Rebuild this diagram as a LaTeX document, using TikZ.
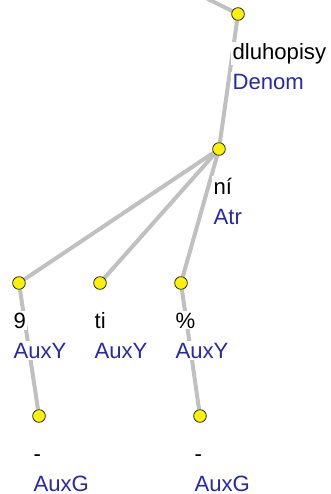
\documentclass[tikz,border=0pt]{standalone}
\usepackage{fontspec}
\setmainfont{Liberation Sans}
\usetikzlibrary{positioning}
\usetikzlibrary{backgrounds}
\definecolor{functor}{RGB}{40,40,170}
\definecolor{edgegray}{RGB}{192,192,192}

\begin{document}
\begin{tikzpicture}[x=0.75pt,y=-0.75pt]
        \tikzstyle{tnode}=[circle,draw=black!85,fill=yellow,minimum size=9.5pt,inner sep=0pt,line width=0.6pt]
        \tikzstyle{edge}=[draw=edgegray,line width=3pt]
        \tikzstyle{form}=[anchor=base west,fill=white,inner sep=1pt,font=\fontsize{16.6}{19}\selectfont]
        \tikzstyle{afun}=[form,text=functor]

        \useasboundingbox (0,0) rectangle (331,494);

        % Tree nodes with word form and functor
        \foreach \name/\x/\y/\form/\afun in {top/238/14/dluhopisy/Denom, ni/219/149/ní/Atr,
                nine/19/283/9/AuxY, ti/100/283/ti/AuxY, pct/181/283/\%/AuxY,
                dasha/39/416/-/AuxG, dashb/200/416/-/AuxG} {
            \node[tnode] (\name) at (\x,\y) {};
            \node[form] (\name-f) at (\x-7,\y+45) {\form};
            \node[afun] (\name-a) at (\x-7,\y+75) {\afun};
        }

        % Parent outside the picture
        \coordinate (root) at (190,-10);

        % Edges behind everything
        \begin{scope}[on background layer]
            \draw[edge] (root) -- (top);
            \draw[edge] (top) -- (ni);
            \foreach \child in {nine,ti,pct}
                \draw[edge] (ni) -- (\child);
            \draw[edge] (nine) -- (dasha);
            \draw[edge] (pct) -- (dashb);
        \end{scope}
\end{tikzpicture}
\end{document}
